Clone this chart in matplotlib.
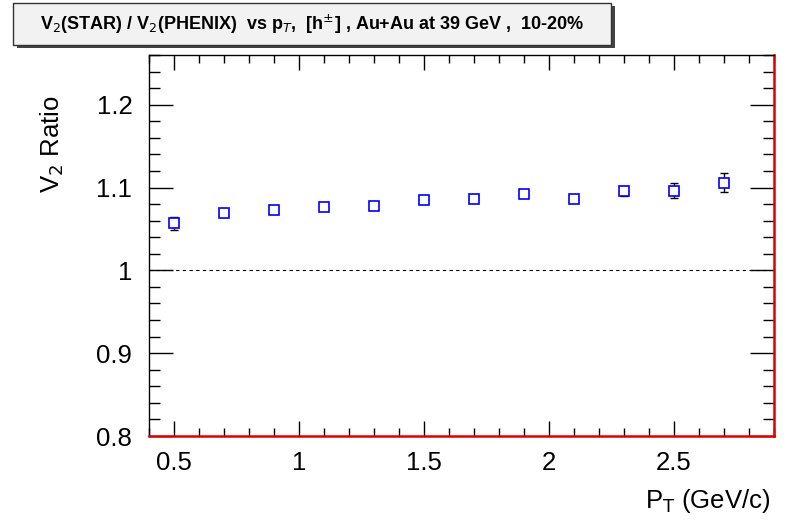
import matplotlib
matplotlib.use("Agg")
import matplotlib.pyplot as plt
from matplotlib.ticker import MultipleLocator
from matplotlib.patches import Rectangle

plt.rcParams['font.family'] = ['Liberation Sans', 'DejaVu Sans']

pt = [0.5, 0.7, 0.9, 1.1, 1.3, 1.5, 1.7, 1.9, 2.1, 2.3, 2.5, 2.7]
ratio = [1.057, 1.069, 1.073, 1.077, 1.078, 1.085, 1.086, 1.092, 1.086, 1.096, 1.096, 1.106]
err = [0.008, 0.003, 0.002, 0.002, 0.002, 0.002, 0.002, 0.002, 0.002, 0.006, 0.009, 0.012]

title = r'V$_2$(STAR) / V$_2$(PHENIX)  vs p$_T$,  [h$^{\pm}$] , Au+Au at 39 GeV ,  10-20%'

fig = plt.figure(figsize=(7.88, 5.2), dpi=100)
ax = fig.add_axes([149/788, 1-436/520, (774-149)/788, (436-55)/520])

ax.axhline(1.0, color='black', lw=0.8, ls=(0, (3, 3)), zorder=1)
ax.errorbar(pt, ratio, yerr=err, fmt='none', ecolor='black', elinewidth=1.0,
            capsize=3, capthick=1.0, zorder=2)
ax.plot(pt, ratio, ls='none', marker='s', ms=6.5, mfc='white', mec='#0000ff',
        mew=1.2, zorder=3)

ax.set_xlim(0.4, 2.9)
ax.set_ylim(0.8, 1.26)
ax.xaxis.set_major_locator(MultipleLocator(0.5))
ax.xaxis.set_minor_locator(MultipleLocator(0.1))
ax.yaxis.set_major_locator(MultipleLocator(0.1))
ax.yaxis.set_minor_locator(MultipleLocator(0.02))
ax.set_yticks([0.8, 0.9, 1.0, 1.1, 1.2])
ax.set_yticklabels(['0.8', '0.9', '1', '1.1', '1.2'])
ax.set_xticks([0.5, 1.0, 1.5, 2.0, 2.5])
ax.set_xticklabels(['0.5', '1', '1.5', '2', '2.5'])

ax.tick_params(axis='both', which='both', direction='in', top=True, right=True,
               labelsize=18.5, colors='black')
ax.tick_params(axis='y', which='major', length=17, width=1.0, pad=12)
ax.tick_params(axis='y', which='minor', length=8, width=1.0)
ax.tick_params(axis='x', which='major', length=11, width=1.0, pad=11)
ax.tick_params(axis='x', which='minor', length=6, width=1.0)

for s in ['left', 'top']:
    ax.spines[s].set_color('black')
    ax.spines[s].set_linewidth(1.0)
for s in ['bottom', 'right']:
    ax.spines[s].set_color('#dd0000')
    ax.spines[s].set_linewidth(1.8)

fig.text(770/788, 1-501/520, r'P$_\mathrm{T}$ (GeV/c)', ha='right', va='center', fontsize=18.5)
fig.text(52/788, 1-95/520, r'V$_2$ Ratio', ha='center', va='top', rotation=90, fontsize=18.5)

# title box with shadow
fig.patches.append(Rectangle((17/788, 1-48/520), 598/788, 42/520, transform=fig.transFigure,
                             facecolor='#444444', edgecolor='none', zorder=0))
fig.patches.append(Rectangle((13/788, 1-45/520), 598/788, 42/520, transform=fig.transFigure,
                             facecolor='#f2f2f2', edgecolor='#333333', lw=1.0, zorder=1))
fig.text(312/788, 1-24/520, title, ha='center', va='center', fontsize=13, fontweight='bold')

fig.savefig('out.png', dpi=100)
